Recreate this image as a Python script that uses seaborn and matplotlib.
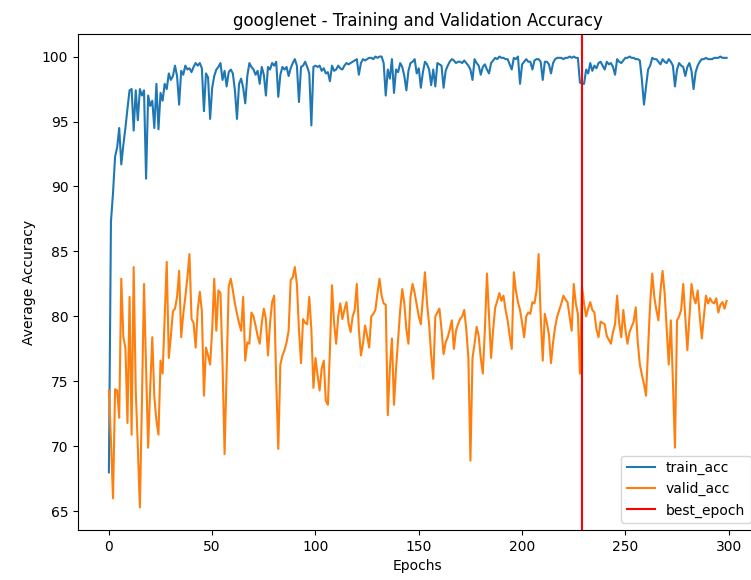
import matplotlib
matplotlib.use("Agg")
import matplotlib.pyplot as plt
import numpy as np
import seaborn as sns

# Values, one per epoch (0..299)
train_acc = [
    68.0, 87.3, 89.5, 92.3, 93.0, 94.5, 91.7, 93.2, 94.5, 96.0,
    97.4, 97.5, 94.3, 97.4, 95.1, 97.5, 97.0, 97.4, 90.6, 97.0,
    96.2, 96.6, 94.5, 97.9, 94.4, 97.2, 96.6, 97.9, 97.5, 98.7,
    98.2, 98.5, 99.3, 98.5, 96.3, 98.9, 98.6, 99.3, 99.0, 99.1,
    98.8, 99.2, 99.5, 99.3, 99.5, 99.1, 95.8, 98.7, 98.4, 95.2,
    97.6, 98.5, 99.0, 99.2, 99.5, 98.2, 98.9, 97.7, 98.8, 99.0,
    98.7, 97.4, 95.2, 97.9, 98.3, 97.6, 96.4, 98.5, 99.5, 99.2,
    99.0, 98.6, 98.9, 97.9, 99.2, 98.6, 97.0, 99.2, 99.0, 99.5,
    99.3, 99.6, 96.9, 98.6, 99.2, 99.0, 99.2, 98.5, 99.1, 99.5,
    99.8, 99.3, 96.5, 99.2, 99.3, 99.6, 99.2, 98.7, 94.7, 99.2,
    99.3, 99.2, 99.3, 98.9, 99.1, 98.7, 98.8, 98.1, 99.3, 98.9,
    99.0, 99.3, 99.1, 99.0, 99.3, 99.5, 99.4, 99.5, 99.6, 99.7,
    99.8, 98.6, 99.5, 99.8, 99.7, 99.8, 99.9, 99.9, 99.8, 100.0,
    99.9, 100.0, 100.0, 99.5, 97.0, 99.0, 98.3, 99.8, 97.2, 99.0,
    98.8, 99.5, 99.2, 98.5, 97.4, 98.9, 99.5, 99.6, 99.8, 98.7,
    99.1, 97.6, 98.8, 99.6, 99.4, 99.0, 97.8, 99.0, 97.7, 99.5,
    99.4, 99.3, 97.6, 98.9, 99.3, 99.6, 99.8, 99.7, 99.5, 99.6,
    99.6, 99.5, 99.7, 99.5, 99.3, 99.0, 98.2, 99.8, 99.5, 99.3,
    98.6, 99.2, 99.4, 99.0, 98.7, 99.5, 99.7, 99.9, 99.8, 100.0,
    99.9, 99.9, 99.8, 99.8, 99.4, 99.0, 99.9, 99.8, 100.0, 97.9,
    99.4, 99.6, 99.8, 99.6, 99.6, 99.0, 99.7, 99.8, 99.8, 99.6,
    98.2, 99.6, 99.6, 99.4, 98.7, 99.5, 99.8, 99.9, 99.9, 99.9,
    99.8, 99.9, 99.9, 100.0, 99.9, 100.0, 99.9, 99.9, 98.0, 97.9,
    97.9, 99.0, 98.7, 99.5, 98.9, 99.3, 99.1, 99.5, 99.6, 99.3,
    99.0, 99.6, 99.4, 99.5, 99.2, 98.6, 99.8, 99.6, 99.5, 99.7,
    99.9, 99.9, 100.0, 99.9, 99.9, 99.8, 99.8, 99.7, 98.2, 96.3,
    97.7, 99.0, 99.3, 99.9, 99.8, 99.8, 99.6, 99.4, 99.8, 99.6,
    99.5, 99.8, 99.6, 99.3, 97.7, 99.0, 99.5, 99.3, 99.2, 98.5,
    99.2, 99.5, 98.9, 97.5, 98.8, 99.3, 99.6, 99.8, 99.8, 99.9,
    99.8, 99.8, 99.8, 99.9, 99.9, 99.9, 100.0, 99.9, 99.9, 99.9,
]

valid_acc = [
    74.3, 70.5, 66.0, 74.4, 74.3, 72.2, 82.9, 78.4, 77.6, 71.8,
    81.5, 70.9, 83.8, 74.3, 70.0, 65.3, 73.5, 82.5, 76.0, 69.9,
    74.5, 78.4, 73.8, 72.0, 70.9, 76.6, 75.6, 80.0, 84.2, 76.8,
    78.5, 80.4, 80.6, 81.5, 83.5, 78.4, 80.2, 81.5, 83.0, 84.8,
    79.8, 79.5, 77.6, 80.5, 81.9, 80.4, 73.9, 77.6, 77.0, 76.3,
    79.0, 82.9, 78.9, 82.0, 81.8, 76.5, 69.4, 76.0, 82.3, 82.9,
    82.0, 81.0, 80.2, 79.5, 78.9, 81.5, 76.6, 78.0, 77.9, 80.3,
    80.0, 79.3, 78.5, 77.9, 79.5, 80.6, 79.8, 77.0, 79.5, 81.1,
    81.6, 75.0, 69.8, 76.3, 77.0, 77.4, 78.0, 78.9, 82.8, 83.0,
    83.8, 82.5, 79.0, 76.4, 79.8, 79.5, 79.4, 81.5, 79.0, 74.5,
    76.8, 75.5, 74.3, 76.0, 76.6, 73.5, 73.2, 77.5, 82.4, 79.5,
    77.9, 80.0, 81.0, 79.8, 80.5, 81.1, 79.5, 78.8, 80.0, 80.5,
    82.5, 79.0, 77.0, 77.9, 79.3, 78.5, 77.6, 80.0, 80.2, 80.5,
    81.8, 82.9, 81.6, 81.0, 80.9, 72.4, 76.0, 78.3, 73.2, 76.0,
    78.2, 80.5, 82.1, 81.0, 79.0, 77.9, 81.5, 82.5, 81.8, 80.9,
    80.0, 79.4, 81.5, 83.4, 81.0, 79.4, 77.0, 75.2, 80.0, 80.3,
    80.6, 79.0, 77.1, 78.0, 78.4, 79.0, 79.7, 77.5, 78.9, 79.4,
    79.8, 80.0, 80.5, 79.0, 76.8, 68.9, 76.8, 77.9, 79.2, 78.5,
    76.8, 75.6, 79.0, 83.3, 80.0, 76.8, 79.0, 80.7, 81.2, 81.8,
    81.2, 81.6, 80.5, 79.7, 78.5, 77.5, 83.4, 82.0, 81.1, 80.5,
    79.5, 78.4, 80.0, 80.3, 80.2, 81.1, 81.0, 82.0, 84.8, 80.0,
    76.6, 80.2, 79.5, 78.6, 76.4, 78.0, 79.2, 80.0, 80.5, 81.0,
    81.6, 81.3, 81.1, 80.0, 78.9, 82.5, 81.0, 80.2, 75.6, 82.3,
    81.0, 80.0, 80.6, 81.1, 80.5, 80.3, 79.0, 78.4, 79.6, 79.5,
    79.4, 78.5, 78.2, 77.9, 78.8, 79.4, 81.6, 79.5, 78.4, 80.5,
    79.0, 77.9, 78.8, 79.2, 79.6, 80.7, 78.0, 76.3, 75.5, 74.8,
    73.9, 77.6, 81.0, 83.3, 81.5, 80.5, 79.7, 82.0, 83.5, 81.8,
    79.0, 76.3, 79.7, 75.0, 69.9, 79.7, 80.0, 80.5, 82.5, 80.0,
    77.4, 80.0, 82.5, 81.5, 81.0, 82.0, 80.0, 78.3, 80.0, 81.6,
    81.0, 81.4, 81.1, 81.0, 81.4, 80.3, 80.9, 81.1, 80.6, 81.2,
]

epochs = np.arange(len(train_acc))
best_epoch = 229

fig = plt.figure(figsize=(7.51, 5.80), dpi=100)
# axes deliberately runs a little past the right edge, like the cropped reference
ax = fig.add_axes([78 / 751, 50 / 580, 679.5 / 751, 496 / 580])

sns.lineplot(x=epochs, y=train_acc, ax=ax, label="train_acc", color="#1f77b4", lw=1.5)
sns.lineplot(x=epochs, y=valid_acc, ax=ax, label="valid_acc", color="#ff7f0e", lw=1.5)
ax.axvline(best_epoch, color="red", lw=1.5, label="best_epoch")

ax.set_title("googlenet - Training and Validation Accuracy", fontsize=12)
ax.set_xlabel("Epochs")
ax.set_ylabel("Average Accuracy")
ax.set_xticks([0, 50, 100, 150, 200, 250, 300])
ax.set_yticks([65, 70, 75, 80, 85, 90, 95, 100])
ax.legend(loc="lower right", fontsize=10)

fig.savefig("out.png", dpi=100)
